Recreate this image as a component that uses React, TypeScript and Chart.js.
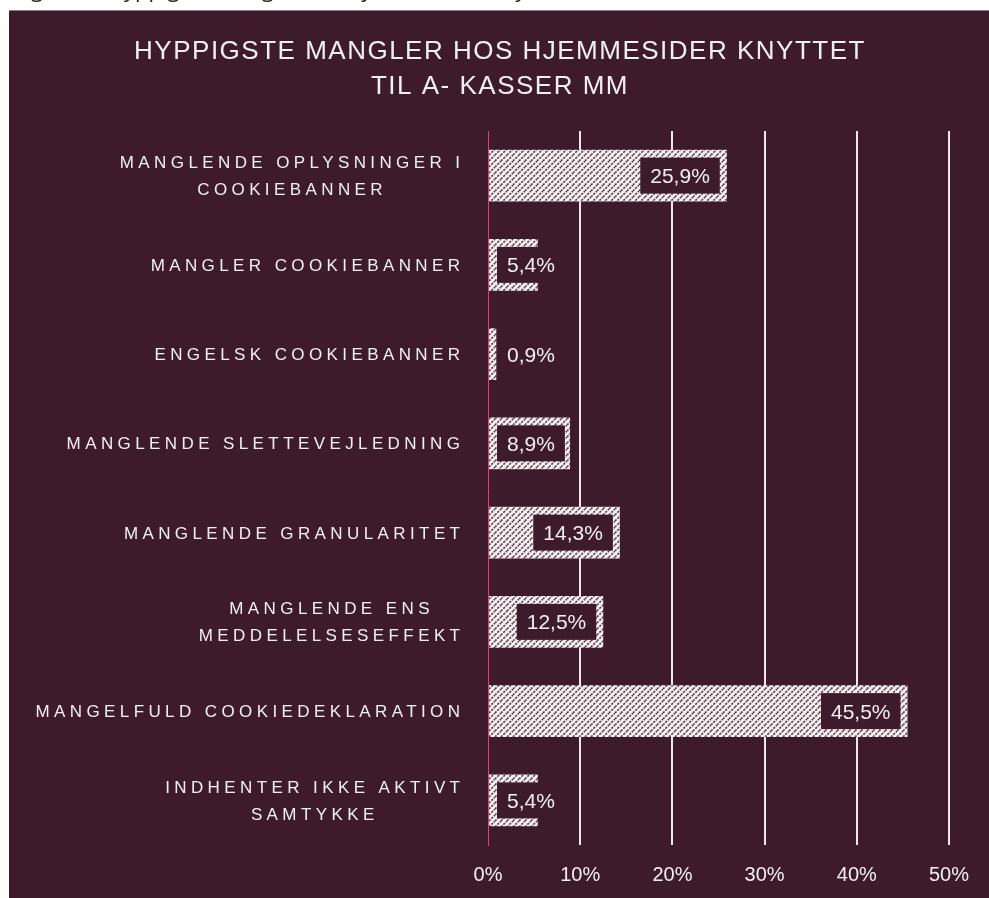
import React, { useEffect, useRef } from "react";
import { Chart, registerables } from "chart.js";

Chart.register(...registerables);

// ---- data ----
const categories: string[][] = [
  ["MANGLENDE OPLYSNINGER I", "COOKIEBANNER"],
  ["MANGLER COOKIEBANNER"],
  ["ENGELSK COOKIEBANNER"],
  ["MANGLENDE SLETTEVEJLEDNING"],
  ["MANGLENDE GRANULARITET"],
  ["MANGLENDE ENS", "MEDDELELSESEFFEKT"],
  ["MANGELFULD COOKIEDEKLARATION"],
  ["INDHENTER IKKE AKTIVT", "SAMTYKKE"],
];
const values: number[] = [25.9, 5.4, 0.9, 8.9, 14.3, 12.5, 45.5, 5.4];
const xTickValues: number[] = [0, 10, 20, 30, 40, 50];
const titleLines: string[] = [
  "HYPPIGSTE MANGLER HOS HJEMMESIDER KNYTTET",
  "TIL A- KASSER MM",
];
const captionText =
  "Figur 12: Hyppigste mangler hos hjemmesider knyttet til a-kasser mm";

// ---- styles ----
const BG = "#3e1b2b";
const TEXT = "#f4f0f2";
const FONT = '"Liberation Sans", Arial, sans-serif';

const fmtPct = (v: number) => v.toFixed(1).replace(".", ",") + "%";

function makePattern(): CanvasPattern | string {
  const c = document.createElement("canvas");
  c.width = 6;
  c.height = 6;
  const g = c.getContext("2d");
  if (!g) return "#ddd";
  g.fillStyle = "#f6f2f4";
  g.fillRect(0, 0, 6, 6);
  g.strokeStyle = "#5a3646";
  g.lineWidth = 1.6;
  g.setLineDash([2.2, 1.2]);
  g.beginPath();
  for (let k = -6; k <= 12; k += 6) {
    g.moveTo(k, 6);
    g.lineTo(k + 6, 0);
  }
  g.stroke();
  return g.createPattern(c, "repeat") || "#ddd";
}

const textPlugin = {
  id: "customText",
  afterDatasetsDraw(chart: any) {
    const ctx: CanvasRenderingContext2D = chart.ctx;
    const meta = chart.getDatasetMeta(0);
    ctx.save();
    ctx.font = `21px ${FONT}`;
    (ctx as any).letterSpacing = "0px";
    ctx.textBaseline = "alphabetic";
    ctx.textAlign = "left";
    meta.data.forEach((bar: any, i: number) => {
      const p = bar.getProps(["x", "y", "base"], true);
      const label = fmtPct(values[i]);
      const w = ctx.measureText(label).width;
      const bw = w + 20;
      const bh = 36;
      const right = p.x - 7;
      const left = Math.max(right - bw, p.base + 8);
      ctx.fillStyle = BG;
      ctx.fillRect(left, p.y - bh / 2, bw, bh);
      ctx.fillStyle = TEXT;
      ctx.fillText(label, left + 10, p.y + 7.5);
    });
    ctx.restore();
  },
  afterDraw(chart: any) {
    const ctx: CanvasRenderingContext2D = chart.ctx;
    ctx.save();
    // title
    ctx.fillStyle = TEXT;
    ctx.font = `26px ${FONT}`;
    (ctx as any).letterSpacing = "1.5px";
    ctx.textAlign = "center";
    ctx.textBaseline = "alphabetic";
    const cx = chart.width / 2 + 1;
    ctx.fillText(titleLines[0], cx, 48);
    ctx.fillText(titleLines[1], cx, 83);

    // category labels
    const spacing = 4.4;
    ctx.font = `17px ${FONT}`;
    (ctx as any).letterSpacing = spacing + "px";
    ctx.textAlign = "left";
    const yScale = chart.scales.y;
    const blockRight = chart.chartArea.left - 28;
    categories.forEach((lines, i) => {
      const yc = yScale.getPixelForValue(i);
      const widths = lines.map((l) => ctx.measureText(l).width - spacing);
      const bw = Math.max(...widths);
      const center = blockRight - bw / 2;
      const lh = 27;
      const y0 = yc - ((lines.length - 1) * lh) / 2;
      lines.forEach((l, j) => {
        ctx.fillText(l, center - widths[j] / 2, y0 + j * lh + 6);
      });
    });
    ctx.restore();
  },
};

export default function App() {
  const canvasRef = useRef<HTMLCanvasElement | null>(null);

  useEffect(() => {
    const canvas = canvasRef.current;
    if (!canvas) return;
    const pattern = makePattern();
    const chart = new Chart(canvas, {
      type: "bar",
      data: {
        labels: categories.map((c) => c.join(" ")),
        datasets: [
          {
            data: values,
            backgroundColor: pattern as any,
            borderWidth: 0,
            barPercentage: 0.58,
            categoryPercentage: 1,
          },
        ],
      },
      options: {
        indexAxis: "y",
        animation: false,
        responsive: false,
        devicePixelRatio: 1,
        layout: { padding: { top: 120, left: 479, right: 40, bottom: 9 } },
        plugins: {
          legend: { display: false },
          title: { display: false },
          tooltip: { enabled: false },
        },
        scales: {
          x: {
            min: 0,
            max: 50,
            afterBuildTicks: (scale: any) => {
              scale.ticks = xTickValues.map((v) => ({ value: v }));
            },
            ticks: {
              color: TEXT,
              font: { family: FONT, size: 20 },
              padding: 18,
              callback: (v: any) => v + "%",
            },
            grid: {
              color: (c: any) => (c.index === 0 ? "rgba(0,0,0,0)" : "#efe8ec"),
              lineWidth: 2,
              drawTicks: false,
            },
            border: { display: false },
          },
          y: {
            grid: { display: false, drawTicks: false },
            ticks: { display: false },
            border: { display: true, color: "#d2467f", width: 1 },
          },
        },
      },
      plugins: [textPlugin],
    });
    return () => chart.destroy();
  }, []);

  return (
    <div>
      <div
        style={{
          position: "fixed",
          left: 14,
          top: 0,
          width: 970,
          height: 8,
          overflow: "hidden",
        }}
      >
        <div
          style={{
            position: "absolute",
            left: 0,
            top: -24,
            whiteSpace: "nowrap",
            fontFamily: '"Open Sans", sans-serif',
            fontSize: 22,
            lineHeight: "24px",
            color: "#222",
          }}
        >
          {captionText}
        </div>
      </div>
      <div
        style={{
          position: "fixed",
          left: 9,
          top: 10,
          width: 980,
          height: 888,
          background: BG,
          borderTop: "1px solid #8d7a82",
          boxSizing: "border-box",
          overflow: "hidden",
        }}
      >
        <canvas
          ref={canvasRef}
          width={980}
          height={903}
          style={{ display: "block", width: 980, height: 903 }}
        />
      </div>
    </div>
  );
}
